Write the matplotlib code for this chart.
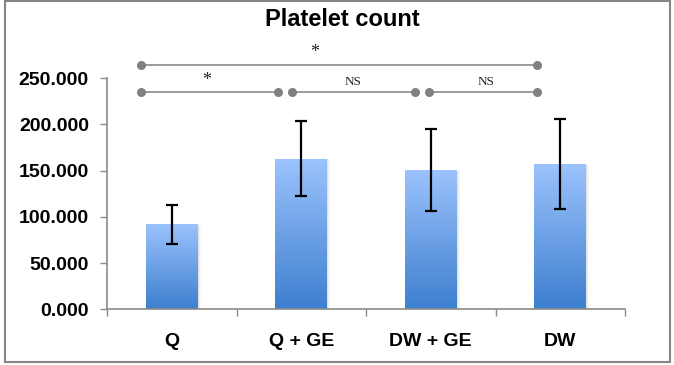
import matplotlib
matplotlib.use("Agg")
import matplotlib.pyplot as plt
import numpy as np
from matplotlib.patches import Rectangle
from matplotlib.colors import LinearSegmentedColormap

categories = ["Q", "Q + GE", "DW + GE", "DW"]
values = [92, 163, 150.5, 157]
errors = [21, 41, 44, 49]
yticks = [0, 50, 100, 150, 200, 250]

# significance brackets
sig_x_start = [-0.24, -0.24, 0.93, 1.99]
sig_x_end = [2.82, 0.82, 1.88, 2.82]
sig_y = [264.5, 234.5, 234.5, 234.5]
sig_labels = ["*", "*", "NS", "NS"]
sig_label_x = [1.10, 0.27, 1.40, 2.43]

W, H = 674, 365
fig = plt.figure(figsize=(W / 100, H / 100), dpi=100)
fig.patch.set_facecolor("white")

ax = fig.add_axes([107 / W, 1 - 309.3 / H, (625 - 107) / W, (309.3 - 78.1) / H])

x = np.arange(len(categories))
bars = ax.bar(x, values, width=0.4, color="none", edgecolor="none", zorder=2)
cmap = LinearSegmentedColormap.from_list("g", ["#3E7FCF", "#9CC3FD"])
grad = np.linspace(0, 1, 256).reshape(-1, 1)
for b in bars:
    x0, y0 = b.get_x(), b.get_y()
    w, h = b.get_width(), b.get_height()
    for k, a in enumerate([0.35, 0.2, 0.1]):
        ax.add_patch(Rectangle((x0 + w, y0), 0.008 * (k + 1), h - 1.0, facecolor="#c8c8c8",
                               edgecolor="none", zorder=1.5, alpha=a))
    im = ax.imshow(grad, extent=[x0, x0 + w, y0, y0 + h], origin="lower",
                   cmap=cmap, aspect="auto", zorder=2)
    im.set_clip_path(b)
ax.set_xlim(-0.5, 3.5)
ax.set_ylim(0, 250)

ax.errorbar(x, values, yerr=errors, fmt="none", ecolor="black", elinewidth=1.6,
            capsize=4.5, capthick=1.6, zorder=3)

for s in ["top", "right"]:
    ax.spines[s].set_visible(False)
for s in ["left", "bottom"]:
    ax.spines[s].set_color("#8a8a8a")
    ax.spines[s].set_linewidth(1.2)

ax.set_yticks(yticks)
ax.set_yticklabels([f"{v:.3f}" for v in yticks], fontsize=14, fontweight="bold",
                   family="Liberation Sans")
ax.tick_params(axis="y", direction="out", length=5, width=1, color="#8a8a8a", pad=8)

ax.set_xticks(x)
ax.set_xticklabels(categories, fontsize=14, fontweight="bold", family="Liberation Sans")
ax.set_xticks(np.arange(-0.5, 4.0, 1.0), minor=True)
ax.tick_params(axis="x", which="major", length=0, pad=17)
ax.tick_params(axis="x", which="minor", direction="out", length=5, width=1, color="#8a8a8a")

for xs, xe, yy, lab, lx in zip(sig_x_start, sig_x_end, sig_y, sig_labels, sig_label_x):
    ax.plot([xs, xe], [yy, yy], color="#808080", lw=1.1, clip_on=False, zorder=4)
    ax.plot([xs, xe], [yy, yy], "o", color="#808080", ms=6.5, clip_on=False, zorder=4,
            markeredgewidth=0)
    if lab == "*":
        ax.text(lx, yy + 4, lab, ha="center", va="bottom", fontsize=13,
                family="Liberation Serif", color="#222222", clip_on=False)
    else:
        ax.text(lx, yy + 5, lab, ha="center", va="bottom", fontsize=9.5,
                family="Liberation Serif", color="#222222", clip_on=False)

fig.text(342 / W, 1 - 19 / H, "Platelet count", ha="center", va="center",
         fontsize=17, fontweight="bold", family="Liberation Sans")

fig.add_artist(Rectangle((5 / W, 3 / H), 665 / W, 361 / H, transform=fig.transFigure,
                         facecolor="none", edgecolor="#868686", lw=1.5))

fig.savefig("out.png", dpi=100)
